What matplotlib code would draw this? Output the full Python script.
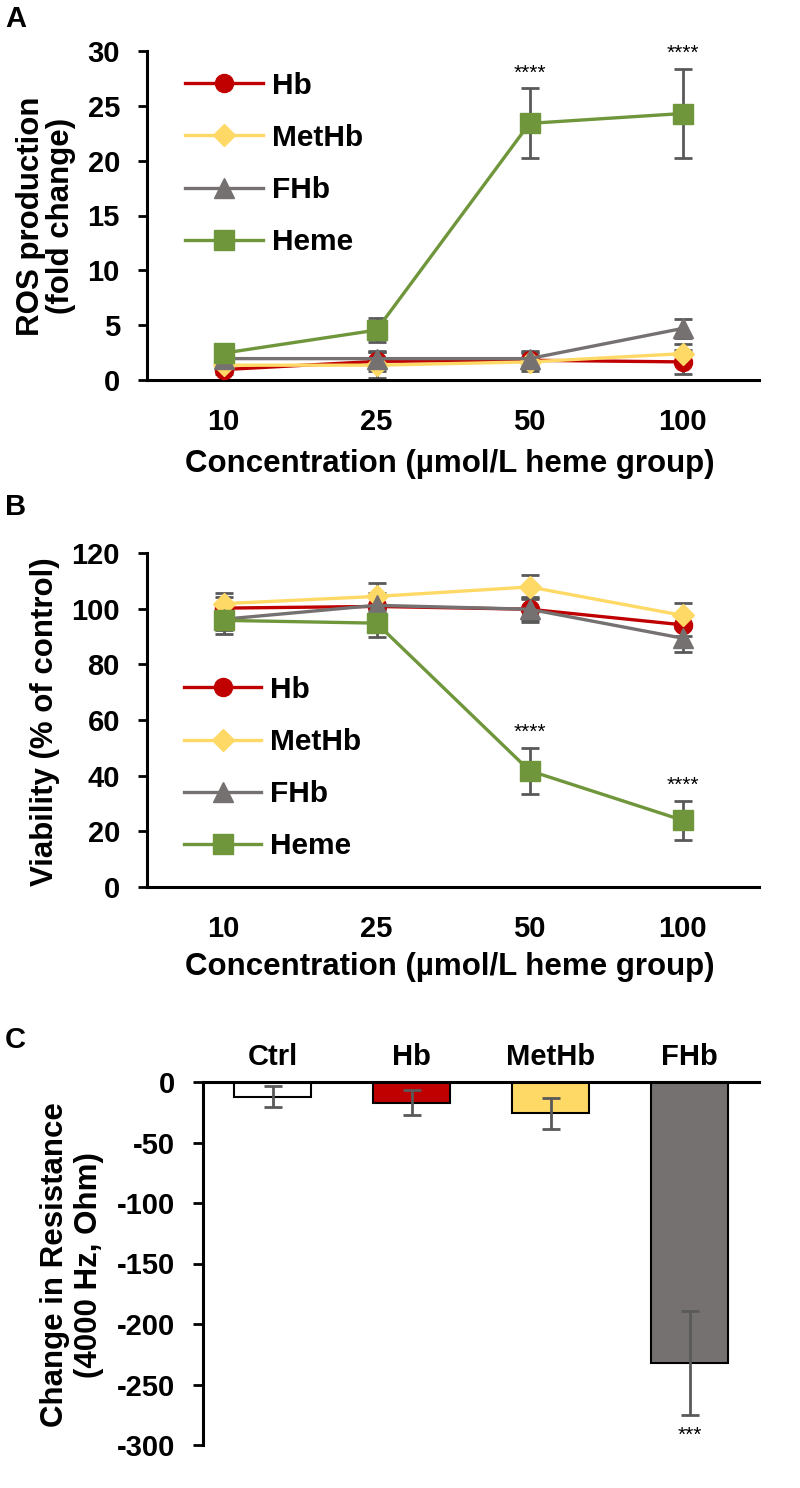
import matplotlib
matplotlib.use('Agg')
import matplotlib.pyplot as plt
from matplotlib.lines import Line2D

# ---------------- data ----------------
conc_labels = ['10', '25', '50', '100']
series_names = ['Hb', 'MetHb', 'FHb', 'Heme']

ros_hb = [0.95, 1.7, 1.8, 1.65]
ros_hb_err = [0.4, 0.9, 0.8, 1.1]
ros_methb = [1.35, 1.35, 1.65, 2.4]
ros_methb_err = [0.5, 1.2, 0.8, 0.9]
ros_fhb = [1.95, 1.95, 1.95, 4.7]
ros_fhb_err = [0.4, 0.6, 0.6, 0.9]
ros_heme = [2.45, 4.55, 23.4, 24.3]
ros_heme_err = [0.5, 1.1, 3.2, 4.1]
ros_sig = ['', '', '****', '****']

via_hb = [100.2, 100.8, 99.8, 94.2]
via_hb_err = [4.0, 4.0, 4.0, 4.0]
via_methb = [101.8, 104.4, 107.8, 97.6]
via_methb_err = [3.7, 5.0, 4.4, 4.4]
via_fhb = [96.2, 101.2, 99.8, 89.4]
via_fhb_err = [4.0, 4.5, 4.5, 5.0]
via_heme = [95.8, 94.8, 41.8, 24.0]
via_heme_err = [5.0, 5.0, 8.3, 7.0]
via_sig = ['', '', '****', '****']

res_groups = ['Ctrl', 'Hb', 'MetHb', 'FHb']
res_values = [-12, -17, -26, -232]
res_err = [9, 10, 12.5, 43]
res_sig = ['', '', '', '***']

# ---------------- style ----------------
plt.rcParams['font.family'] = ['Liberation Sans', 'DejaVu Sans']
plt.rcParams['font.weight'] = 'bold'
plt.rcParams['axes.unicode_minus'] = False

colors = {'Hb': '#C00000', 'MetHb': '#FFD966', 'FHb': '#767171', 'Heme': '#70963C'}
markers = {'Hb': ('o', 13), 'MetHb': ('D', 11), 'FHb': ('^', 14), 'Heme': ('s', 14.5)}
err_color = '#595959'
TICK_FS = 21
LABEL_FS = 22.5
LEG_FS = 21.5

W, H = 800, 1488
fig = plt.figure(figsize=(W / 100, H / 100), dpi=100)


def ax_px(l, t, r, b):
    return fig.add_axes([l / W, 1 - b / H, (r - l) / W, (b - t) / H])


def ftext(x, y, s, **kw):
    fig.text(x / W, 1 - y / H, s, **kw)


def style_line_axes(ax, ylim, yticks):
    for s in ['top', 'right']:
        ax.spines[s].set_visible(False)
    for s in ['left', 'bottom']:
        ax.spines[s].set_linewidth(2.2)
    ax.set_xlim(-0.5, 3.5)
    ax.set_ylim(*ylim)
    ax.set_yticks(yticks)
    ax.set_xticks(range(len(conc_labels)))
    ax.set_xticklabels(conc_labels)
    ax.tick_params(axis='y', direction='out', length=6.5, width=2, pad=13)
    ax.tick_params(axis='x', length=0, pad=20)
    for lab in ax.get_xticklabels() + ax.get_yticklabels():
        lab.set_fontsize(TICK_FS)
        lab.set_fontweight('bold')
    ax.patch.set_alpha(0)


def plot_series(ax, data, errs, sig):
    xs = list(range(len(conc_labels)))
    for name in series_names:
        y = data[name]
        e = errs[name]
        m, ms = markers[name]
        ax.errorbar(xs, y, yerr=e, fmt='none', ecolor=err_color, elinewidth=2,
                    capsize=6.5, capthick=2, zorder=2)
        ax.plot(xs, y, color=colors[name], lw=2.4, marker=m, markersize=ms,
                markerfacecolor=colors[name], markeredgecolor=colors[name], zorder=3)
    top = [data['Heme'][i] + errs['Heme'][i] for i in xs]
    for i in xs:
        if sig[i]:
            ax.annotate(sig[i], (i, top[i]), xytext=(0, 4), textcoords='offset points',
                        ha='center', va='bottom', fontsize=15, fontweight='normal')


def legend(ax, loc_xy):
    handles = []
    for name in series_names:
        m, ms = markers[name]
        handles.append(Line2D([0], [0], color=colors[name], lw=2.4, marker=m, markersize=ms,
                              markerfacecolor=colors[name], markeredgecolor=colors[name]))
    leg = ax.legend(handles, series_names, loc='upper left', bbox_to_anchor=loc_xy,
                    frameon=False, handlelength=2.6, handletextpad=0.3, labelspacing=0.81,
                    prop={'weight': 'bold', 'size': LEG_FS},
                    borderaxespad=0, borderpad=0)
    return leg


# ---------------- Panel A ----------------
axA = ax_px(147, 51, 759, 380)
plot_series(axA, {'Hb': ros_hb, 'MetHb': ros_methb, 'FHb': ros_fhb, 'Heme': ros_heme},
            {'Hb': ros_hb_err, 'MetHb': ros_methb_err, 'FHb': ros_fhb_err, 'Heme': ros_heme_err},
            ros_sig)
style_line_axes(axA, (0, 30), range(0, 31, 5))
legend(axA, (0.062, 0.937))
ftext(5, 19, 'A', fontsize=21, fontweight='bold', va='center', ha='left')
ftext(46, 216, 'ROS production\n(fold change)', fontsize=LABEL_FS, fontweight='bold',
      rotation=90, va='center', ha='center', linespacing=1.0)
ftext(450, 464, 'Concentration (µmol/L heme group)', fontsize=LABEL_FS, fontweight='bold',
      va='center', ha='center')

# ---------------- Panel B ----------------
axB = ax_px(147, 553, 759, 887)
plot_series(axB, {'Hb': via_hb, 'MetHb': via_methb, 'FHb': via_fhb, 'Heme': via_heme},
            {'Hb': via_hb_err, 'MetHb': via_methb_err, 'FHb': via_fhb_err, 'Heme': via_heme_err},
            via_sig)
style_line_axes(axB, (0, 120), range(0, 121, 20))
legend(axB, (0.06, 0.632))
ftext(5, 507, 'B', fontsize=21, fontweight='bold', va='center', ha='left')
ftext(45, 722, 'Viability (% of control)', fontsize=LABEL_FS, fontweight='bold',
      rotation=90, va='center', ha='center')
ftext(450, 967, 'Concentration (µmol/L heme group)', fontsize=LABEL_FS, fontweight='bold',
      va='center', ha='center')

# ---------------- Panel C ----------------
axC = ax_px(203, 1082, 759, 1445)
xs = list(range(len(res_groups)))
bar_colors = ['#FFFFFF', '#C00000', '#FFD966', '#767171']
axC.bar(xs, res_values, width=0.56, color=bar_colors, edgecolor='black', linewidth=1.5, zorder=2)
axC.errorbar(xs, res_values, yerr=res_err, fmt='none', ecolor=err_color, elinewidth=2,
             capsize=6.5, capthick=2, zorder=3)
for i in xs:
    if res_sig[i]:
        axC.annotate(res_sig[i], (i, res_values[i] - res_err[i]), xytext=(0, -8),
                     textcoords='offset points', ha='center', va='top', fontsize=15,
                     fontweight='normal')
for s in ['bottom', 'right']:
    axC.spines[s].set_visible(False)
for s in ['left', 'top']:
    axC.spines[s].set_linewidth(2.2)
axC.set_xlim(-0.5, 3.5)
axC.set_ylim(-300, 0)
axC.set_yticks(range(-300, 1, 50))
axC.xaxis.tick_top()
axC.set_xticks(xs)
axC.set_xticklabels(res_groups)
axC.tick_params(axis='y', direction='out', length=7, width=2, pad=13)
axC.tick_params(axis='x', length=0, pad=8)
for lab in axC.get_xticklabels() + axC.get_yticklabels():
    lab.set_fontsize(TICK_FS)
    lab.set_fontweight('bold')
axC.patch.set_alpha(0)
ftext(5, 1040, 'C', fontsize=21, fontweight='bold', va='center', ha='left')
ftext(72, 1265, 'Change in Resistance\n(4000 Hz, Ohm)', fontsize=LABEL_FS, fontweight='bold',
      rotation=90, va='center', ha='center', linespacing=1.15)

fig.savefig('out.png', dpi=100)
